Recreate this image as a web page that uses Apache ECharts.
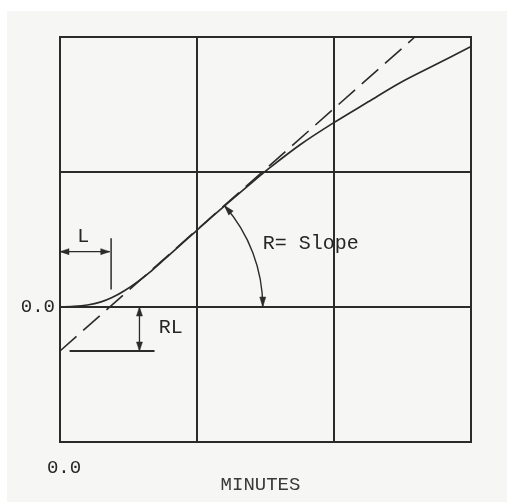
<!DOCTYPE html>
<html>
<head>
<meta charset="utf-8">
<script src="https://cdn.jsdelivr.net/npm/echarts@6/dist/echarts.min.js"></script>
<style>
  html, body { margin: 0; padding: 0; background: #ffffff; }
  #chart { width: 507px; height: 502px; }
</style>
</head>
<body>
<div id="chart"></div>
<script>
// Response curve (time in grid units vs. response)
const curveX = [0, 0.1, 0.2, 0.3, 0.38, 0.47, 0.57, 0.67, 0.77, 0.88, 0.985, 1.1, 1.22, 1.37, 1.53, 1.75, 1.99, 2.25, 2.48, 2.75, 3.0];
const curveY = [0, 0.004, 0.015, 0.038, 0.07, 0.12, 0.19, 0.27, 0.36, 0.46, 0.555, 0.66, 0.765, 0.895, 1.03, 1.2, 1.36, 1.52, 1.66, 1.8, 1.93];

// Tangent through the steepest part of the curve (slope R)
const tangentX = [0, 2.59];
const tangentY = [-0.326, 2.0];

// Axis ticks and the only labelled values
const xTicks = [0, 1, 2, 3];
const yTicks = [-1, 0, 1, 2];
const xTickLabels = ['0.0', '', '', ''];
const yTickLabels = ['', '0.0', '', ''];
const xTitle = 'MINUTES';

// Annotation texts
const lagText = 'L';
const rlText = 'RL';
const slopeText = 'R= Slope';

const INK = '#2b2b2b';
const TEXT = '#262626';
const FONT = '"Liberation Mono", "DejaVu Sans Mono", monospace';

const lag = -tangentY[0] * (tangentX[1] - tangentX[0]) / (tangentY[1] - tangentY[0]);

const chart = echarts.init(document.getElementById('chart'), null, { renderer: 'canvas' });

function labelFor(ticks, labels) {
  return function (v) {
    const i = ticks.findIndex(t => Math.abs(t - v) < 1e-9);
    return i >= 0 ? labels[i] : '';
  };
}

function head(tip, dx, dy, len, half) {
  const n = Math.hypot(dx, dy);
  const ux = dx / n, uy = dy / n;
  const bx = tip[0] - ux * len, by = tip[1] - uy * len;
  return {
    type: 'polygon',
    shape: { points: [[tip[0], tip[1]], [bx - uy * half, by + ux * half], [bx + uy * half, by - ux * half]] },
    style: { fill: INK, stroke: INK, lineWidth: 0.5 }
  };
}

function seg(p, q, w) {
  return { type: 'line', shape: { x1: p[0], y1: p[1], x2: q[0], y2: q[1] }, style: { stroke: INK, lineWidth: w || 1.5 } };
}

function txt(p, s, align) {
  return {
    type: 'text',
    style: { text: s, x: p[0], y: p[1], font: '20px ' + FONT, fill: TEXT, align: align || 'left', verticalAlign: 'middle' }
  };
}

function renderAnnotations(params, api) {
  const c = (x, y) => api.coord([x, y]);
  const kids = [];

  // L : lag time dimension
  const a = c(0, 0.41), b = c(lag, 0.41);
  kids.push(seg(a, b, 1.3));
  kids.push(head(a, -1, 0, 9, 3));
  kids.push(head(b, 1, 0, 9, 3));
  kids.push(seg(c(lag + 0.01, 0.13), c(lag + 0.01, 0.51), 1.5));
  kids.push(txt(c(0.17, 0.52), lagText, 'center'));

  // RL : intercept below zero
  const rlTop = c(0.58, 0), rlBot = c(0.58, tangentY[0]);
  kids.push(seg(rlTop, rlBot, 1.3));
  kids.push(head(rlTop, 0, -1, 9, 3));
  kids.push(head(rlBot, 0, 1, 9, 3));
  kids.push(seg(c(0.07, tangentY[0]), c(0.69, tangentY[0]), 1.8));
  kids.push(txt(c(0.72, -0.15), rlText, 'left'));

  // R = slope : angle arc between tangent and zero line
  const ctr = c(lag, 0);
  const r = c(1.48, 0)[0] - ctr[0];
  const p1 = c(tangentX[0], tangentY[0]), p2 = c(tangentX[1], tangentY[1]);
  const th = Math.atan2(p2[1] - p1[1], p2[0] - p1[0]);
  kids.push({
    type: 'arc',
    shape: { cx: ctr[0], cy: ctr[1], r: r, startAngle: th, endAngle: 0, clockwise: true },
    style: { stroke: INK, lineWidth: 1.4, fill: null }
  });
  kids.push(head([ctr[0] + r * Math.cos(th), ctr[1] + r * Math.sin(th)], Math.sin(th), -Math.cos(th), 10, 3));
  kids.push(head([ctr[0] + r, ctr[1]], 0, 1, 10, 3));
  kids.push(txt(c(1.48, 0.47), slopeText, 'left'));

  return { type: 'group', children: kids };
}

const option = {
  backgroundColor: '#ffffff',
  animation: false,
  graphic: [{
    type: 'rect', z: -10, silent: true,
    shape: { x: 7, y: 11, width: 500, height: 491 },
    style: { fill: '#f6f6f5' }
  }],
  grid: {
    left: 60, right: 36, top: 37, bottom: 60,
    outerBoundsMode: 'none', containLabel: false,
    show: true, borderColor: INK, borderWidth: 2, backgroundColor: 'transparent'
  },
  xAxis: {
    type: 'value', min: xTicks[0], max: xTicks[xTicks.length - 1], interval: 1,
    name: xTitle, nameLocation: 'middle', nameGap: 33, nameMoveOverlap: false,
    nameTextStyle: { fontFamily: FONT, fontSize: 19, color: '#3a3a3a', padding: [0, 10, 0, 0] },
    axisLine: { show: true, lineStyle: { color: INK, width: 2 } },
    axisTick: { show: false },
    axisLabel: { formatter: labelFor(xTicks, xTickLabels), margin: 16, fontFamily: FONT, fontSize: 19, color: TEXT, padding: [0, 0, 0, 8], showMinLabel: true },
    splitLine: { show: true, lineStyle: { color: INK, width: 2 } }
  },
  yAxis: {
    type: 'value', min: yTicks[0], max: yTicks[yTicks.length - 1], interval: 1,
    axisLine: { show: true, lineStyle: { color: INK, width: 2 } },
    axisTick: { show: false },
    axisLabel: { formatter: labelFor(yTicks, yTickLabels), margin: 5, fontFamily: FONT, fontSize: 19, color: TEXT },
    splitLine: { show: true, lineStyle: { color: INK, width: 2 } }
  },
  series: [
    {
      type: 'line', name: 'response',
      data: curveX.map((x, i) => [x, curveY[i]]),
      smooth: 0.35, showSymbol: false,
      lineStyle: { color: INK, width: 1.7 }, z: 3
    },
    {
      type: 'line', name: 'tangent',
      data: tangentX.map((x, i) => [x, tangentY[i]]),
      showSymbol: false,
      lineStyle: { color: INK, width: 1.6, type: [22, 9] }, z: 3
    },
    {
      type: 'custom', name: 'annotations',
      data: [[0, 0]],
      renderItem: renderAnnotations,
      z: 4, silent: true
    }
  ]
};

chart.setOption(option);
</script>
</body>
</html>
